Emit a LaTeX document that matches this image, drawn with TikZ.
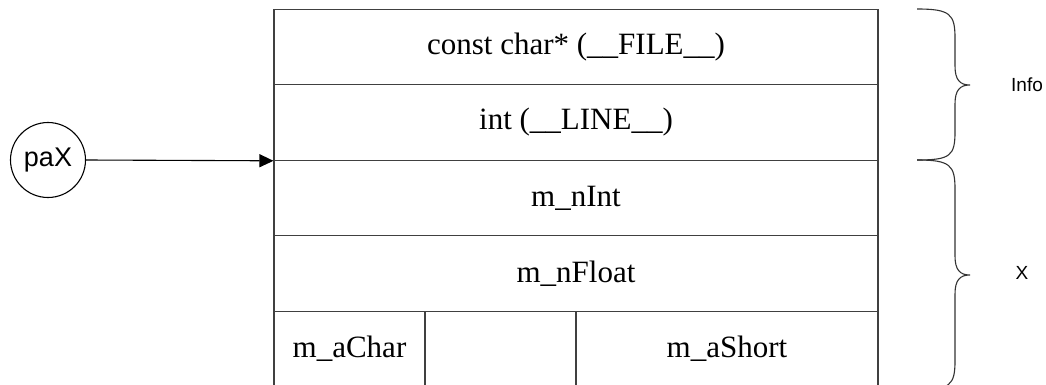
\documentclass[tikz,border=0pt]{standalone}
\usepackage{fontspec}
\setmainfont{Liberation Serif}
\newfontfamily\labelfont{Liberation Sans}
\usetikzlibrary{arrows.meta}
\begin{document}
\begin{tikzpicture}[x=1pt,y=-1pt,
  cell/.style={draw=black!75,line width=1.1pt,rectangle,inner sep=0pt,
    font=\fontsize{31}{36}\selectfont},
  brace/.style={draw=black!80,line width=1.1pt},
  lab/.style={font=\labelfont\fontsize{19}{22}\selectfont},
  conn/.style={draw=black,line width=1.1pt,-{Triangle[length=14pt,width=13pt]}}]
\useasboundingbox (0,0) rectangle (1046,385);
\clip (0,0) rectangle (1046,385);
% rows
\node[cell,minimum width=604pt,minimum height=75.5pt] (r1) at (576,47) {const char* (\_\_FILE\_\_)};
\node[cell,minimum width=604pt,minimum height=75.5pt] (r2) at (576,122.5) {int (\_\_LINE\_\_)};
\node[cell,minimum width=604pt,minimum height=75.5pt] (r3) at (576,198) {m\_nInt};
\node[cell,minimum width=604pt,minimum height=75.5pt] (r4) at (576,273.5) {m\_nFloat};
\node[cell,minimum width=151pt,minimum height=75.5pt] (c1) at (349.5,349) {m\_aChar};
\node[cell,minimum width=151pt,minimum height=75.5pt] (c2) at (500.5,349) {};
\node[cell,minimum width=302pt,minimum height=75.5pt] (c3) at (727,349) {m\_aShort};
% pointer
\node[draw=black,line width=1.1pt,circle,minimum size=75pt,inner sep=0pt,
  font=\labelfont\fontsize{27}{30}\selectfont] (pax) at (48,160) {paX};
\coordinate (target) at (r2.south west);
\draw[conn] (pax.east) -- (target);
% braces
\draw[brace] (917,9) .. controls (950,9) and (955,14) .. (955,38) -- (955,66)
  .. controls (955,80) and (960,85) .. (970,85)
  .. controls (960,85) and (955,90) .. (955,104) -- (955,132)
  .. controls (955,156) and (950,160) .. (917,160);
\draw[brace] (917,160) .. controls (950,160) and (955,165) .. (955,189) -- (955,256)
  .. controls (955,270) and (960,275) .. (970,275)
  .. controls (960,275) and (955,280) .. (955,294) -- (955,361)
  .. controls (955,385) and (950,390) .. (917,390);
\node[lab] (info) at (1027,85) {Info};
\node[lab] (xlab) at (1022,273) {X};
\end{tikzpicture}
\end{document}
